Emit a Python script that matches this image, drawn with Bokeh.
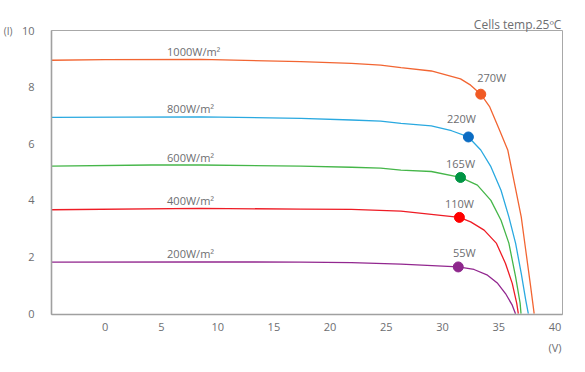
from bokeh.plotting import figure
from bokeh.models import Range1d, FixedTicker, LinearAxis, ColumnDataSource
from bokeh.core.properties import value
from bokeh.embed import file_html
from bokeh.resources import INLINE

# ---- data ----
v_1000 = [-4.8, 0, 8.5, 17.4, 21.9, 24.5, 26.3, 29.0, 31.6, 32.5, 33.4, 34.2, 35.0, 35.8, 36.4, 37.0, 37.4, 37.8, 38.15]
i_1000 = [8.95, 8.97, 8.98, 8.90, 8.84, 8.78, 8.69, 8.57, 8.29, 8.07, 7.75, 7.30, 6.55, 5.78, 4.60, 3.42, 2.24, 1.07, 0.0]

v_800 = [-4.8, 8.5, 17.4, 21.9, 24.5, 26.3, 29.0, 30.8, 32.3, 33.4, 34.3, 35.2, 35.9, 36.5, 37.0, 37.4, 37.63]
i_800 = [6.93, 6.95, 6.90, 6.84, 6.80, 6.72, 6.63, 6.46, 6.24, 5.78, 5.19, 4.36, 3.42, 2.48, 1.42, 0.48, 0.0]

v_600 = [-4.8, 4.1, 8.5, 17.4, 21.9, 24.5, 26.3, 29.0, 31.6, 33.1, 34.3, 35.2, 35.9, 36.5, 36.9, 36.98]
i_600 = [5.21, 5.25, 5.25, 5.21, 5.17, 5.14, 5.07, 5.02, 4.81, 4.54, 4.00, 3.30, 2.49, 1.30, 0.37, 0.0]

v_400 = [-4.8, 8.5, 17.4, 21.9, 26.3, 31.5, 32.5, 33.7, 34.8, 35.6, 36.2, 36.6, 36.74]
i_400 = [3.67, 3.72, 3.69, 3.68, 3.62, 3.40, 3.24, 2.95, 2.48, 1.77, 1.07, 0.36, 0.0]

v_200 = [-4.8, 8.5, 17.4, 21.9, 26.3, 31.4, 32.8, 34.0, 34.9, 35.6, 36.2, 36.49]
i_200 = [1.82, 1.83, 1.82, 1.80, 1.75, 1.65, 1.56, 1.36, 1.07, 0.71, 0.30, 0.0]

irradiance_labels = ["1000W/m²", "800W/m²", "600W/m²", "400W/m²", "200W/m²"]
mpp_labels = ["270W", "220W", "165W", "110W", "55W"]
mpp_v = [33.4, 32.3, 31.6, 31.5, 31.4]
mpp_i = [7.75, 6.24, 4.81, 3.40, 1.65]

x_ticks = [0, 5, 10, 15, 20, 25, 30, 35, 40]
y_ticks = [0, 2, 4, 6, 8, 10]
x_unit = "(V)"
y_unit = "(I)"
note = "Cells temp.25ºC"

# ---- styles ----
FONT = "Open Sans"
TXT = "#6d6e71"
line_colors = ["#f26532", "#2aa9e0", "#45b649", "#ee1c25", "#92278f"]
dot_colors = ["#f15a24", "#0b6cc3", "#009444", "#ff0000", "#8e278c"]
mpp_dx = [11, -7, 0, 0, 6]
mpp_dy = [-17, -18, -14, -14, -14]

p = figure(width=577, height=364, output_backend="svg", toolbar_location=None,
           x_range=Range1d(-4.78, 40.67), y_range=Range1d(-0.03, 10.0),
           min_border_left=50, min_border_right=15, min_border_top=30, min_border_bottom=50)
p.background_fill_color = "white"
p.border_fill_color = "white"
p.outline_line_color = "#a8a8a8"
p.outline_line_width = 1
p.xgrid.visible = False
p.ygrid.visible = False


def style(ax, size="11px"):
    ax.major_tick_line_color = None
    ax.minor_tick_line_color = None
    ax.major_label_text_font = FONT
    ax.major_label_text_font_size = size
    ax.major_label_text_color = TXT


# bottom axis
xa = p.xaxis[0]
style(xa)
xa.ticker = FixedTicker(ticks=x_ticks)
xa.axis_line_color = "#a0a0a0"
xa.axis_line_width = 1.6
xa.major_label_standoff = 2

# left axis
ya = p.yaxis[0]
style(ya)
ya.ticker = FixedTicker(ticks=y_ticks)
ya.axis_line_color = "#a0a0a0"
ya.axis_line_width = 1.6
ya.major_label_standoff = 11

# unit of the y axis, to the left of the 10
yu = LinearAxis(ticker=FixedTicker(ticks=[y_ticks[-1]]),
                major_label_overrides={y_ticks[-1]: y_unit})
style(yu, "10px")
yu.axis_line_color = None
yu.major_label_standoff = 0
p.add_layout(yu, "left")

# unit of the x axis, under the 40
xu = LinearAxis(ticker=FixedTicker(ticks=[x_ticks[-1]]),
                major_label_overrides={x_ticks[-1]: x_unit})
style(xu)
xu.axis_line_color = None
xu.major_label_standoff = 0
p.add_layout(xu, "below")

# note above the top right corner
NOTE_AT = 36.68
nu = LinearAxis(ticker=FixedTicker(ticks=[NOTE_AT]), major_label_overrides={NOTE_AT: note})
style(nu, "12px")
nu.axis_line_color = None
nu.major_label_standoff = -8
p.add_layout(nu, "above")

curves = [(v_1000, i_1000), (v_800, i_800), (v_600, i_600), (v_400, i_400), (v_200, i_200)]
for (vv, ii), c in zip(curves, line_colors):
    p.line(vv, ii, line_color=c, line_width=1.3)

# irradiance labels, just above each curve's flat part
lab_src = ColumnDataSource(dict(x=[5.5] * 5, y=[c[1][0] for c in curves], t=irradiance_labels))
p.text(x="x", y="y", text="t", source=lab_src, y_offset=-9,
       text_font=value(FONT), text_font_size="11px", text_color=TXT,
       text_align="left", text_baseline="middle")

# maximum power points
mpp_src = ColumnDataSource(dict(x=mpp_v, y=mpp_i, t=mpp_labels, c=dot_colors, dx=mpp_dx, dy=mpp_dy))
p.scatter(x="x", y="y", source=mpp_src, size=10, fill_color="c", line_color="c")
p.text(x="x", y="y", text="t", source=mpp_src, x_offset="dx", y_offset="dy",
       text_font=value(FONT), text_font_size="11px", text_color=TXT,
       text_align="center", text_baseline="middle")

open("out.html", "w").write(file_html(p, INLINE))
